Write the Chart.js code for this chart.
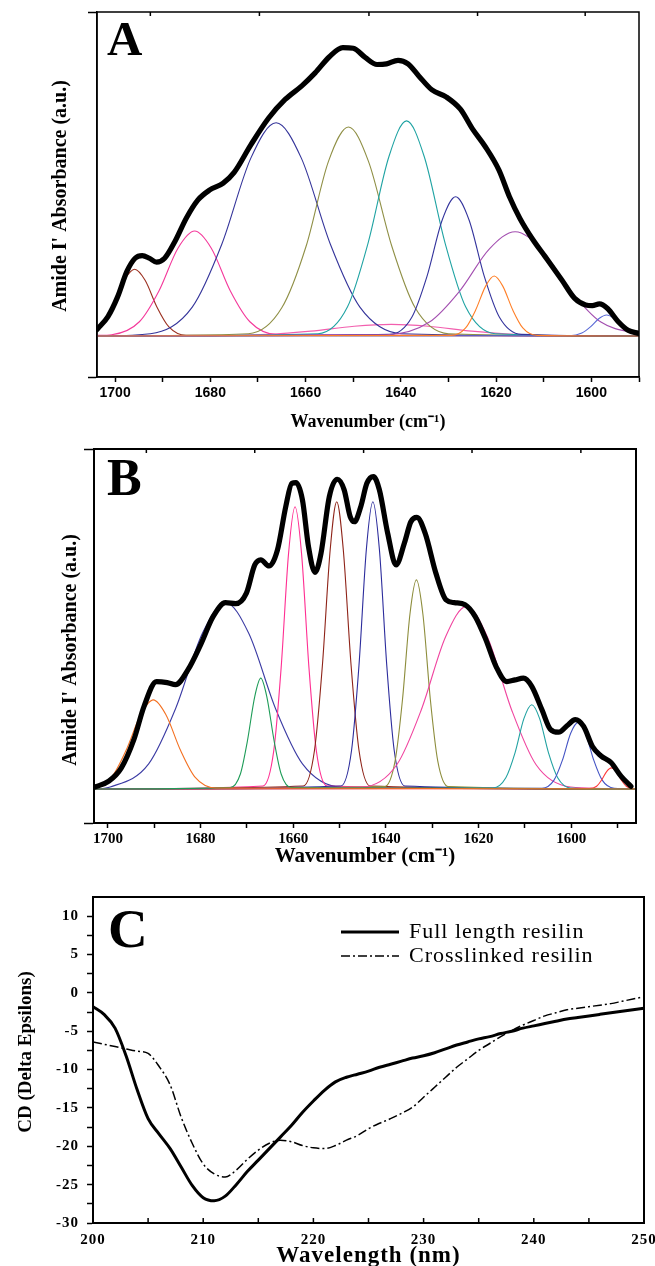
<!DOCTYPE html>
<html lang="en">
<head>
<meta charset="UTF-8">
<meta name="viewport" content="width=device-width, initial-scale=1.0">
<title>Resilin: Amide I' band fitting and CD spectra</title>
<script src="https://cdn.jsdelivr.net/npm/chart.js"></script>
<style>
    html, body { margin: 0; padding: 0; background: #fff; overflow: hidden; }
    body { position: relative; width: 655px; height: 1266px; }
    .panel { position: absolute; left: 0; }
    #panel-a { top: 0; width: 655px; height: 435px; }
    #panel-b { top: 440px; width: 655px; height: 430px; }
    #panel-c { top: 875px; width: 680px; height: 391px; }
</style>
</head>
<body>
<div class="panel" id="panel-a"><canvas id="chartA"></canvas></div>
<div class="panel" id="panel-b"><canvas id="chartB"></canvas></div>
<div class="panel" id="panel-c"><canvas id="chartC"></canvas></div>

<script>
const SERIF = "'Liberation Serif', 'Times New Roman', serif";
const SANS = "'Liberation Sans', Arial, sans-serif";

// ---------- Panel A: [wavenumber, absorbance] (baseline 0, frame top 1) ----------
const aRange = [1590, 1703.8];
const aAbsRange = [-0.1265, 1];
const aTicks = [1700, 1690, 1680, 1670, 1660, 1650, 1640, 1630, 1620, 1610, 1600, 1590];
const aTopTicks = [1692.6, 1669.7, 1646.7, 1623.9, 1601.3];

const aFit = [[1703.8,.02],[1701.5,.06],[1699.5,.12],[1697.5,.2],[1695.8,.24],[1694.3,.248],[1692.8,.24],
    [1691.3,.228],[1689.6,.24],[1687.5,.29],[1685,.365],[1682.6,.42],[1680.2,.45],[1677.3,.472],[1675,.505],
    [1671.5,.59],[1667.8,.672],[1664.3,.73],[1660.8,.772],[1658,.812],[1655,.862],[1652.2,.89],[1650,.888],
    [1647.5,.86],[1645,.838],[1643,.84],[1640.6,.851],[1638.5,.84],[1636.2,.802],[1633.5,.76],[1630.5,.738],
    [1627.5,.7],[1625,.64],[1622.3,.585],[1619.4,.512],[1617.2,.43],[1615,.363],[1612.3,.298],[1609.7,.245],
    [1606.2,.173],[1603.5,.116],[1601.2,.096],[1599.8,.094],[1598.3,.099],[1596.6,.085],[1594.4,.045],
    [1592.3,.018],[1590,.008]];

const aBand1696 = [[1706.7,.002],[1703.1,.028],[1700.6,.089],[1698.1,.172],[1695.9,.206],[1693.7,.172],[1691.2,.089],[1688.7,.028],[1685.1,.002],[1590,0]];
const aBand1683 = [[1703.8,.002],[1700.7,.004],[1694.9,.044],[1690.8,.139],[1686.8,.271],[1683.3,.324],[1679.8,.271],[1675.8,.139],[1671.7,.044],[1665.9,.004],[1590,0]];
const aBand1666 = [[1703.8,0],[1692.6,.007],[1683.8,.089],[1677.6,.283],[1671.5,.549],[1666.2,.658],[1660.9,.549],[1654.8,.283],[1648.6,.089],[1639.8,.007],[1590,0]];
const aBand1651 = [[1703.8,0],[1672,.007],[1665,.087],[1659.9,.277],[1655.2,.539],[1651,.645],[1646.8,.539],[1641.9,.277],[1637,.087],[1630,.007],[1590,0]];
const aBand1639 = [[1703.8,0],[1657.4,.007],[1651.2,.09],[1646.9,.286],[1642.5,.554],[1638.8,.664],[1635.1,.554],[1630.7,.286],[1626.4,.09],[1620.2,.007],[1590,0]];
const aBand1642 = [[1703.8,0],[1681,.0004],[1668,.005],[1658.9,.015],[1649.8,.03],[1642,.036],[1634.2,.03],[1625.1,.015],[1616,.005],[1603,.0004],[1590,0]];
const aBand1628 = [[1703.8,0],[1642.3,.005],[1637.7,.058],[1634.5,.185],[1631.3,.359],[1628.5,.43],[1625.7,.359],[1622.5,.185],[1619.3,.058],[1614.7,.005],[1590,0]];
const aBand1620 = [[1703.8,0],[1629.4,.002],[1626.4,.025],[1624.3,.08],[1622.2,.154],[1620.4,.185],[1618.6,.154],[1616.5,.08],[1614.4,.025],[1611.4,.002],[1590,0]];
const aBand1616 = [[1703.8,0],[1643,.004],[1634,.043],[1627.7,.138],[1621.4,.269],[1616,.322],[1610.6,.269],[1604.3,.138],[1598,.043],[1589,.004]];
const aBand1597 = [[1703.8,0],[1604.6,.001],[1602,.009],[1600.2,.028],[1598.4,.054],[1596.8,.065],[1595.2,.054],[1593.4,.028],[1591.6,.009],[1589,.001]];

const aBands = [aBand1620, aBand1597, aBand1616, aBand1628, aBand1639, aBand1651, aBand1666, aBand1683, aBand1696, aBand1642];
const aBandColors = ['#ff7f27', '#5a6ad6', '#a34fb0', '#33339c', '#1fa3a3', '#8f8f45', '#34349a', '#f4399b', '#9b2f1f', '#f25fae'];

// ---------- Panel B ----------
const bRange = [1586, 1703];
const bAbsRange = [-0.1, 1];
const bTicks = [1700, 1690, 1680, 1670, 1660, 1650, 1640, 1630, 1620, 1610, 1600, 1590];
const bTopTicks = [1691.7, 1668.3, 1644.8, 1621.4, 1597.9];

const bFit = [[1703,.005],[1699.8,.023],[1697.1,.062],[1694.4,.145],[1692.2,.243],[1689.5,.316],[1687.2,.313],
    [1685.4,.307],[1682.7,.351],[1680,.424],[1677.3,.507],[1674.6,.548],[1672.4,.545],[1670.1,.576],[1668.3,.659],
    [1667,.674],[1665.2,.656],[1663.4,.703],[1661.6,.831],[1660.3,.899],[1659.4,.901],[1658,.85],[1656.7,.713],
    [1655.3,.637],[1654,.693],[1652.2,.86],[1650.5,.911],[1649,.88],[1647.7,.801],[1646.8,.786],[1645.4,.831],
    [1644.1,.899],[1642.7,.919],[1641.4,.88],[1639.6,.752],[1637.8,.659],[1636,.723],[1634.6,.786],[1633.3,.799],
    [1631.5,.752],[1629.2,.635],[1627,.556],[1625.2,.548],[1622.9,.542],[1620.7,.507],[1618.4,.439],[1616.2,.36],
    [1613.9,.316],[1612.1,.321],[1610.3,.326],[1608.5,.302],[1606.3,.233],[1604.5,.176],[1602.7,.167],[1600.9,.186],
    [1599.1,.204],[1597.3,.184],[1595.4,.125],[1593.6,.098],[1591.4,.078],[1589.2,.037],[1587.1,.008]];

const bBand1690 = [[1703.7,.003],[1699.2,.035],[1696.1,.113],[1692.9,.219],[1690.2,.262],[1687.5,.219],[1684.3,.113],[1681.2,.035],[1676.7,.003],[1586,0]];
const bBand1675 = [[1703,0],[1699.5,.006],[1691.2,.074],[1685.4,.236],[1679.6,.458],[1674.6,.548],[1669.6,.458],[1663.8,.236],[1658,.074],[1649.7,.006],[1586,0]];
const bBand1667 = [[1703,0],[1673.6,.004],[1671.4,.044],[1669.9,.14],[1668.3,.272],[1667,.326],[1665.7,.272],[1664.1,.14],[1662.6,.044],[1660.4,.004],[1586,0]];
const bBand1660 = [[1703,0],[1666.5,.009],[1664.2,.112],[1662.6,.357],[1661,.693],[1659.6,.83],[1658.2,.693],[1656.6,.357],[1655,.112],[1652.7,.009],[1586,0]];
const bBand1651 = [[1703,0],[1657.8,.009],[1655.4,.114],[1653.7,.363],[1652,.706],[1650.6,.845],[1649.2,.706],[1647.5,.363],[1645.8,.114],[1643.4,.009],[1586,0]];
const bBand1643 = [[1703,0],[1649.7,.009],[1647.4,.114],[1645.8,.363],[1644.2,.706],[1642.8,.845],[1641.4,.706],[1639.8,.363],[1638.2,.114],[1635.9,.009],[1586,0]];
const bBand1633 = [[1703,0],[1640.3,.007],[1638,.083],[1636.4,.264],[1634.8,.514],[1633.4,.615],[1632,.514],[1630.4,.264],[1628.8,.083],[1626.5,.007],[1586,0]];
const bBand1623 = [[1703,0],[1645.1,.006],[1637.6,.072],[1632.4,.231],[1627.1,.448],[1622.6,.537],[1618.1,.448],[1612.8,.231],[1607.6,.072],[1600.1,.006],[1586,0]];
const bBand1608 = [[1703,0],[1616.9,.003],[1614.1,.033],[1612.1,.107],[1610.2,.207],[1608.5,.248],[1606.8,.207],[1604.9,.107],[1602.9,.033],[1600.1,.003],[1586,0]];
const bBand1598 = [[1703,0],[1606.3,.002],[1603.7,.026],[1601.9,.084],[1600.1,.164],[1598.5,.196],[1596.9,.164],[1595.1,.084],[1593.3,.026],[1590.7,.002],[1586,0]];
const bBand1591 = [[1703,0],[1596.1,.001],[1594.5,.008],[1593.4,.027],[1592.3,.052],[1591.3,.062],[1590.3,.052],[1589.2,.027],[1588.1,.008],[1586.5,.001]];

const bBands = [bBand1690, bBand1667, bBand1591, bBand1598, bBand1608, bBand1623, bBand1633, bBand1643, bBand1651, bBand1660, bBand1675];
const bBandColors = ['#f37021', '#1e9c58', '#ff3b3b', '#4454c4', '#22a2a2', '#f0449f', '#8d8d3c', '#2c2c9c', '#8e2318', '#ff2f92', '#3a3aa3'];

// ---------- Panel C: CD spectra ----------
const cWave = [200, 201, 202, 203, 204, 205, 206, 207, 208, 209, 210, 211, 212, 213, 214, 215, 216, 217, 218, 219,
    220, 221, 222, 223, 224, 225, 226, 227, 228, 229, 230, 231, 232, 233, 234, 235, 236, 237, 238, 239,
    240, 241, 242, 243, 244, 245, 246, 247, 248, 249, 250];
const cFullLength = [-1.8, -2.8, -4.6, -8.2, -12.6, -16.4, -18.4, -20.3, -22.7, -25.1, -26.7, -27.1, -26.5, -25.0, -23.3,
    -21.8, -20.3, -18.8, -17.3, -15.6, -14.1, -12.7, -11.6, -11.0, -10.6, -10.2, -9.7, -9.3, -8.9, -8.5,
    -8.2, -7.8, -7.3, -6.8, -6.4, -6.0, -5.7, -5.3, -5.0, -4.6, -4.3, -4.0, -3.7, -3.4, -3.2, -3.0,
    -2.8, -2.6, -2.4, -2.2, -2.0];
const cCrosslinked = [-6.4, -6.7, -7.0, -7.3, -7.6, -7.9, -9.6, -12.0, -16.2, -19.6, -22.3, -23.6, -24.0, -23.1, -21.7,
    -20.5, -19.6, -19.2, -19.4, -19.9, -20.2, -20.3, -19.9, -19.2, -18.6, -17.7, -17.0, -16.4, -15.7, -14.9,
    -13.6, -12.3, -11.0, -9.7, -8.6, -7.5, -6.6, -5.7, -4.9, -4.2, -3.6, -3.0, -2.6, -2.2, -2.0, -1.8,
    -1.6, -1.4, -1.1, -0.8, -0.5];
const cXTicks = [200, 205, 210, 215, 220, 225, 230, 235, 240, 245, 250];
const cYTicks = [-30, -27.5, -25, -22.5, -20, -17.5, -15, -12.5, -10, -7.5, -5, -2.5, 0, 2.5, 5, 7.5, 10];

// frame box, inward ticks, panel letter and rotated y title
const frame = {
    id: 'frame',
    afterDraw(chart, args, o) {
        const { ctx, chartArea: a } = chart;
        ctx.save();
        ctx.letterSpacing = '0px';
        ctx.strokeStyle = '#000';
        ctx.lineWidth = o.width;
        ctx.strokeRect(a.left, a.top, a.right - a.left, a.bottom - a.top);
        ctx.lineWidth = 1.5;
        (o.innerTicks || []).forEach(t => {
            const s = chart.scales[t.axis];
            const y0 = t.side === 'top' ? a.top : a.bottom;
            const dir = t.side === 'top' ? 1 : -1;
            t.values.forEach(v => {
                const p = s.getPixelForValue(v);
                ctx.beginPath();
                ctx.moveTo(p, y0);
                ctx.lineTo(p, y0 + dir * t.len);
                ctx.stroke();
            });
        });
        ctx.fillStyle = '#000';
        if (o.letter) {
            ctx.font = `bold ${o.letter.size}px ${SERIF}`;
            ctx.textBaseline = 'alphabetic';
            ctx.fillText(o.letter.text, a.left + o.letter.dx, a.top + o.letter.dy);
        }
        if (o.yTitle) {
            ctx.translate(o.yTitle.x, (a.top + a.bottom) / 2 + o.yTitle.dy);
            ctx.rotate(-Math.PI / 2);
            ctx.font = `bold ${o.yTitle.size}px ${SERIF}`;
            ctx.textAlign = 'center';
            ctx.textBaseline = 'middle';
            ctx.fillText(o.yTitle.text, 0, 0);
        }
        ctx.restore();
    }
};

// line-sample legend drawn inside the plot (panel C)
const lineKey = {
    id: 'lineKey',
    afterDraw(chart, args, o) {
        const { ctx, chartArea: a } = chart;
        chart.data.datasets.forEach((ds, i) => {
            const y = a.top + o.top + i * o.gap;
            ctx.save();
            ctx.strokeStyle = ds.borderColor;
            ctx.lineWidth = ds.borderWidth;
            ctx.setLineDash(ds.borderDash || []);
            ctx.beginPath();
            ctx.moveTo(a.left + o.x0, y);
            ctx.lineTo(a.left + o.x1, y);
            ctx.stroke();
            ctx.setLineDash([]);
            ctx.font = `${o.size}px ${SERIF}`;
            ctx.fillStyle = '#000';
            ctx.textBaseline = 'middle';
            ctx.fillText(ds.label, a.left + o.xText, y);
            ctx.restore();
        });
    }
};

// the C panel of the original is stretched sideways: widen its lettering a little
const spread = {
    id: 'spread',
    beforeUpdate(chart, args, o) { chart.ctx.letterSpacing = o.px + 'px'; },
    beforeDraw(chart, args, o) { chart.ctx.letterSpacing = o.px + 'px'; }
};

function bandChart(canvasId, fit, bands, colors, s) {
    const datasets = [{
        data: fit, borderColor: '#000', borderWidth: s.fitWidth, pointRadius: 0,
        cubicInterpolationMode: 'monotone', borderJoinStyle: 'round', borderCapStyle: 'round'
    }];
    bands.forEach((band, i) => datasets.push({
        data: band, borderColor: colors[i], borderWidth: 1.1, pointRadius: 0,
        cubicInterpolationMode: 'monotone'
    }));

    return new Chart(document.getElementById(canvasId), {
        type: 'line',
        data: { datasets },
        plugins: [frame],
        options: {
            responsive: true,
            maintainAspectRatio: false,
            animation: false,
            events: [],
            layout: { padding: { top: s.padTop, right: s.padRight, left: 0, bottom: 0 } },
            plugins: {
                legend: { display: false },
                tooltip: { enabled: false },
                frame: {
                    width: s.border, letter: s.letter, yTitle: s.yTitle,
                    innerTicks: [{ axis: 'x', side: 'top', values: s.topTicks, len: 4 }]
                }
            },
            scales: {
                x: {
                    type: 'linear', reverse: true, min: s.range[0], max: s.range[1],
                    afterBuildTicks: sc => { sc.ticks = s.ticks.map(v => ({ value: v })); },
                    afterFit: sc => { sc.height = s.xHeight; },
                    ticks: {
                        autoSkip: false, maxRotation: 0, padding: s.tickPad, color: '#000',
                        font: s.tickFont,
                        callback: v => (v % 20 === 0 ? String(v) : '')
                    },
                    grid: { drawOnChartArea: false, tickLength: 5, tickWidth: 1.5, tickColor: '#000' },
                    border: { color: '#000', width: s.border },
                    title: {
                        display: true, text: 'Wavenumber (cm\u207B\u00B9)', color: '#000',
                        font: { family: SERIF, size: s.xTitleSize, weight: 'bold', lineHeight: 1 },
                        padding: { top: 0, bottom: s.xTitlePad }
                    }
                },
                y: {
                    min: s.absRange[0], max: s.absRange[1],
                    afterBuildTicks: sc => { sc.ticks = [{ value: sc.min }, { value: sc.max }]; },
                    afterFit: sc => { sc.width = s.yWidth; },
                    ticks: { display: false },
                    grid: { drawOnChartArea: false, tickLength: s.yTick, tickWidth: 1.5, tickColor: '#000' },
                    border: { color: '#000', width: s.border }
                }
            }
        }
    });
}

bandChart('chartA', aFit, aBands, aBandColors, {
    range: aRange, absRange: aAbsRange, ticks: aTicks, topTicks: aTopTicks, fitWidth: 5.2, border: 1.5,
    padTop: 12, padRight: 16, xHeight: 58, yWidth: 97, yTick: 9, tickPad: 3, xTitleSize: 18, xTitlePad: 4,
    tickFont: { family: SANS, size: 14, weight: 'bold' },
    letter: { text: 'A', size: 49, dx: 10, dy: 43 },
    yTitle: { text: "Amide I' Absorbance (a.u.)", size: 20, x: 60.5, dy: 1.5 }
});

bandChart('chartB', bFit, bBands, bBandColors, {
    range: bRange, absRange: bAbsRange, ticks: bTicks, topTicks: bTopTicks, fitWidth: 5.2, border: 2,
    padTop: 9, padRight: 19, xHeight: 47, yWidth: 94, yTick: 10, tickPad: 2, xTitleSize: 21, xTitlePad: 2.5,
    tickFont: { family: SERIF, size: 15, weight: 'bold' },
    letter: { text: 'B', size: 52, dx: 13, dy: 46 },
    yTitle: { text: "Amide I' Absorbance (a.u.)", size: 20, x: 70.5, dy: 14 }
});

new Chart(document.getElementById('chartC'), {
    type: 'line',
    data: {
        datasets: [
            {
                label: 'Full length resilin',
                data: cWave.map((w, i) => ({ x: w, y: cFullLength[i] })),
                borderColor: '#000', borderWidth: 3, pointRadius: 0, cubicInterpolationMode: 'monotone'
            },
            {
                label: 'Crosslinked resilin',
                data: cWave.map((w, i) => ({ x: w, y: cCrosslinked[i] })),
                borderColor: '#000', borderWidth: 1.5, borderDash: [9, 3, 2, 3], pointRadius: 0,
                cubicInterpolationMode: 'monotone'
            }
        ]
    },
    plugins: [spread, frame, lineKey],
    options: {
        responsive: true,
        maintainAspectRatio: false,
        animation: false,
        events: [],
        layout: { padding: { top: 22, right: 36, left: 0, bottom: 0 } },
        plugins: {
            legend: { display: false },
            tooltip: { enabled: false },
            spread: { px: 1 },
            frame: {
                width: 2,
                innerTicks: [{ axis: 'x', side: 'bottom', values: cXTicks, len: 5 }],
                letter: { text: 'C', size: 55, dx: 15, dy: 50 },
                yTitle: { text: 'CD (Delta Epsilons)', size: 19, x: 26.5, dy: -8 }
            },
            lineKey: { top: 35, gap: 24, x0: 248, x1: 306, xText: 316, size: 22 }
        },
        scales: {
            x: {
                type: 'linear', min: 200, max: 250,
                afterBuildTicks: sc => { sc.ticks = cXTicks.map(v => ({ value: v })); },
                afterFit: sc => { sc.height = 43; },
                ticks: {
                    autoSkip: false, maxRotation: 0, padding: 8, color: '#000',
                    font: { family: SERIF, size: 15, weight: 'bold' },
                    callback: v => (v % 10 === 0 ? String(v) : '')
                },
                grid: { drawOnChartArea: false, drawTicks: false },
                border: { color: '#000', width: 2 },
                title: {
                    display: true, text: 'Wavelength (nm)', color: '#000',
                    font: { family: SERIF, size: 23, weight: 'bold', lineHeight: 0.85 },
                    padding: { top: 0, bottom: 0 }
                }
            },
            y: {
                min: -30, max: 12.5,
                afterBuildTicks: sc => { sc.ticks = cYTicks.map(v => ({ value: v })); },
                afterFit: sc => { sc.width = 93; },
                ticks: {
                    autoSkip: false, padding: 8, color: '#000',
                    font: { family: SERIF, size: 15, weight: 'bold' },
                    callback: v => (v % 5 === 0 ? String(v) : '')
                },
                grid: { drawOnChartArea: false, tickLength: 6, tickWidth: 1.5, tickColor: '#000' },
                border: { color: '#000', width: 2 }
            }
        }
    }
});
</script>
</body>
</html>
